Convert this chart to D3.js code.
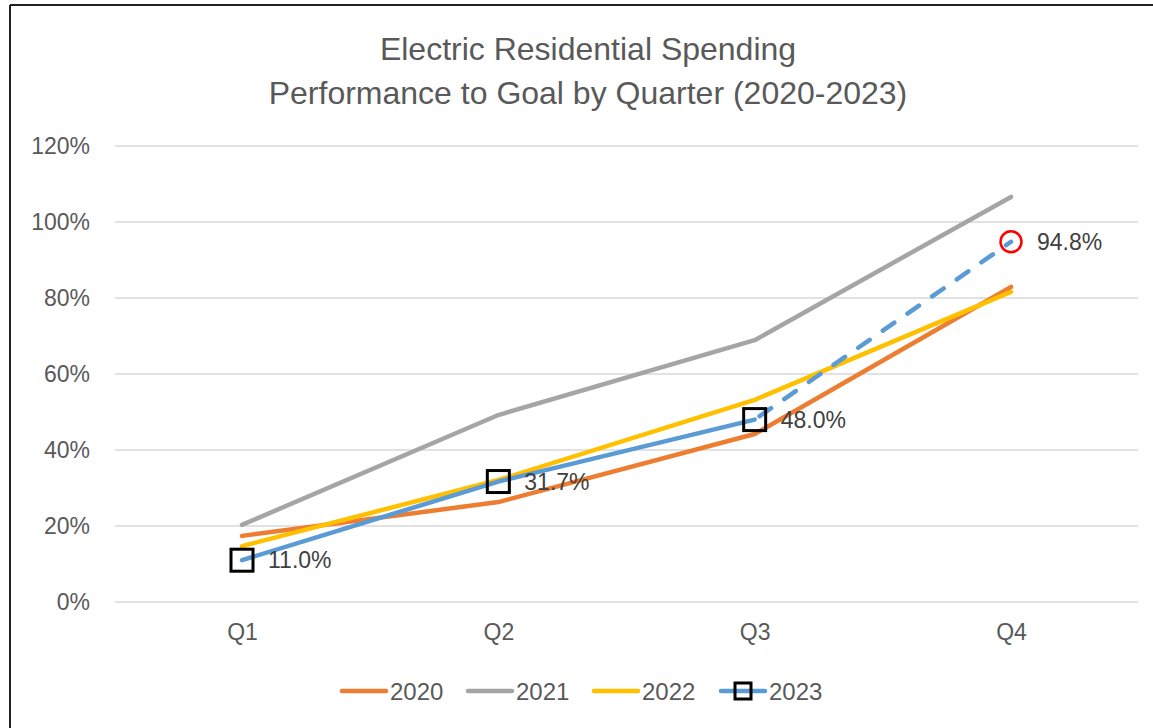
<!DOCTYPE html>
<html><head><meta charset="utf-8">
<script src="https://cdn.jsdelivr.net/npm/d3@7"></script>
<style>
html,body{margin:0;padding:0;background:#fff;}
svg{display:block;font-family:"Liberation Sans",Arial,sans-serif;}
</style></head>
<body>
<svg id="chart" width="1153" height="728"></svg>
<script>
const quarters = ["Q1","Q2","Q3","Q4"];
const yTicks = [0,0.2,0.4,0.6,0.8,1.0,1.2];
const s2020 = [0.174,0.263,0.442,0.829];
const s2021 = [0.203,0.492,0.689,1.066];
const s2022 = [0.147,0.321,0.532,0.816];
const s2023 = [0.110,0.317,0.480];
const s2023proj = [0.480,0.948];
const seriesNames = ["2020","2021","2022","2023"];
const seriesColors = ["#ED7D31","#A5A5A5","#FFC000","#5B9BD5"];

const svg = d3.select("#chart");
// frame: left and top edges only
svg.append("line").attr("x1",10).attr("x2",10).attr("y1",5).attr("y2",728).attr("stroke","#222").attr("stroke-width",2);
svg.append("line").attr("x1",10).attr("x2",1153).attr("y1",5).attr("y2",5).attr("stroke","#222").attr("stroke-width",2);

const x = d3.scalePoint().domain(quarters).range([242,1011]);
const y = d3.scaleLinear().domain([0,1.2]).range([602,146]);
const left=115, right=1138;

// gridlines
svg.append("g").selectAll("line").data(yTicks).join("line")
  .attr("x1",left).attr("x2",right).attr("y1",d=>y(d)).attr("y2",d=>y(d))
  .attr("stroke","#d9d9d9").attr("stroke-width",1.5);

// y axis labels
const yAxis = d3.axisLeft(y).tickValues(yTicks).tickFormat(d3.format(".0%")).tickSize(0).tickPadding(0);
const gy = svg.append("g").attr("transform","translate(90,0)").call(yAxis);
gy.select(".domain").remove();
gy.selectAll("text").attr("font-size",23).attr("fill","#595959").attr("font-family","Liberation Sans, Arial, sans-serif");

// x axis labels
const xAxis = d3.axisBottom(x).tickSize(0).tickPadding(0);
const gx = svg.append("g").attr("transform","translate(0,624)").call(xAxis);
gx.select(".domain").remove();
gx.selectAll("text").attr("font-size",23).attr("fill","#595959").attr("font-family","Liberation Sans, Arial, sans-serif");

// title
const title = svg.append("g").attr("fill","#595959").attr("font-size",32).attr("text-anchor","middle");
title.append("text").attr("x",588).attr("y",60).text("Electric Residential Spending");
title.append("text").attr("x",588).attr("y",104).text("Performance to Goal by Quarter (2020-2023)");

const line = d3.line().x((d,i)=>x(quarters[i])).y(d=>y(d));
[s2020,s2021,s2022].forEach((s,k)=>{
  svg.append("path").datum(s).attr("d",line).attr("fill","none")
    .attr("stroke",seriesColors[k]).attr("stroke-width",4.5).attr("stroke-linejoin","round").attr("stroke-linecap","round");
});
// 2023 actual
svg.append("path").datum(s2023).attr("d",line).attr("fill","none")
  .attr("stroke",seriesColors[3]).attr("stroke-width",4.5).attr("stroke-linejoin","round").attr("stroke-linecap","round");
// 2023 projection dashed
const lineProj = d3.line().x((d,i)=>x(quarters[i+2])).y(d=>y(d));
svg.append("path").datum(s2023proj).attr("d",lineProj).attr("fill","none")
  .attr("stroke",seriesColors[3]).attr("stroke-width",4.5).attr("stroke-linecap","round")
  .attr("stroke-dasharray","14,16").attr("stroke-dashoffset",-6);

// markers
const fmt = d3.format(".1%");
svg.append("g").selectAll("rect").data(s2023).join("rect")
  .attr("x",(d,i)=>x(quarters[i])-11).attr("y",d=>y(d)-11).attr("width",22).attr("height",22)
  .attr("fill","none").attr("stroke","#000").attr("stroke-width",3);
svg.append("circle").attr("cx",x("Q4")).attr("cy",y(s2023proj[1])).attr("r",10.5)
  .attr("fill","none").attr("stroke","#FF0000").attr("stroke-width",2.5);

// labels
const lbl = s2023.concat([s2023proj[1]]);
svg.append("g").selectAll("text").data(lbl).join("text")
  .attr("x",(d,i)=>x(quarters[i])+26).attr("y",d=>y(d)+8)
  .attr("font-size",23).attr("fill","#404040").text(d=>fmt(d));

// legend
const legX = [340,466,592,719];
const leg = svg.append("g");
seriesNames.forEach((n,k)=>{
  const g = leg.append("g").attr("transform",`translate(${legX[k]},691)`);
  g.append("line").attr("x1",2).attr("x2",46).attr("y1",0).attr("y2",0)
    .attr("stroke",seriesColors[k]).attr("stroke-width",4.5).attr("stroke-linecap","round");
  if(k===3){
    g.append("rect").attr("x",16).attr("y",-8).attr("width",16).attr("height",16)
      .attr("fill","none").attr("stroke","#000").attr("stroke-width",3);
  }
  g.append("text").attr("x",50).attr("y",9).attr("font-size",24).attr("fill","#595959").text(n);
});
</script>
</body></html>
